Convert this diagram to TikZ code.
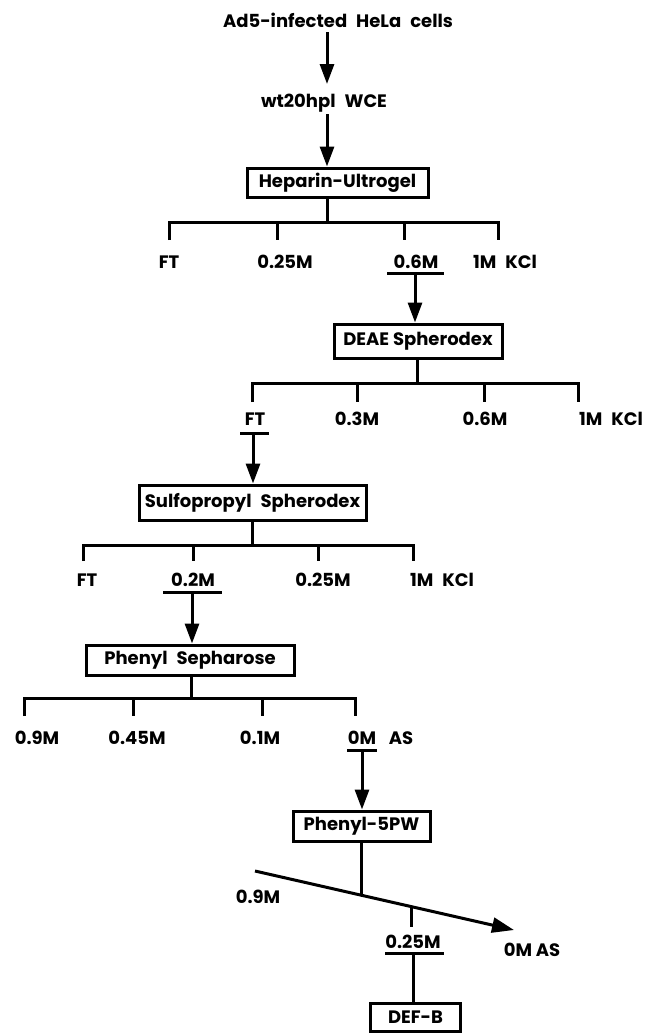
\documentclass[tikz,border=0pt]{standalone}
\usepackage{fontspec}
\setmainfont{Poppins}
\usetikzlibrary{arrows.meta,calc}
\newcommand{\ws}{\hspace{9pt}}
\begin{document}
\begin{tikzpicture}[x=1pt,y=-1pt,
  lab/.style={inner sep=0pt,font=\fontsize{18}{21}\selectfont\bfseries},
  box/.style={draw,line width=3pt,inner sep=0pt,font=\fontsize{18}{21}\selectfont\bfseries},
  ln/.style={line width=3pt},
  arr/.style={line width=3pt,-{Triangle[length=20pt,width=14pt]}}]
\useasboundingbox (0,0) rectangle (655,1034);

% top
\node[lab] (top) at (338,20) {Ad5-infected\ws HeLa\ws cells};
\node[lab] (wce) at (324,103) {wt20hpl\ws WCE};
\node[box,minimum width=181pt,minimum height=29pt] (hep) at (337.5,182.5) {Heparin-Ultrogel};
\coordinate (a1) at (327,32);
\coordinate (a1e) at (327,84);
\coordinate (a2) at (327,114);
\draw[arr] (a1) -- (a1e);
\draw[arr] (a2) -- (a2 |- hep.north);

% Heparin row
\coordinate (s1) at (327,197);
\draw[ln] (s1) -- (327,222);
\draw[ln] (169,240) -- (169,222) -- (498,222) -- (498,240);
\draw[ln] (277,222) -- (277,240);
\draw[ln] (404,222) -- (404,240);
\node[lab] (h1) at (169,262) {FT};
\node[lab] (h2) at (285,262) {0.25M};
\node[lab] (h3) at (416,262) {0.6M};
\node[lab] (h4) at (505,262) {1M\ws KCl};
\draw[ln] (387,273) -- (444,273);
\coordinate (u1) at (415,273);
\node[box,minimum width=168pt,minimum height=34pt] (deae) at (418,341) {DEAE Spherodex};
\draw[arr] (u1) -- (u1 |- deae.north);

% DEAE row
\draw[ln] (417,358) -- (417,383);
\draw[ln] (252,402) -- (252,383) -- (578,383) -- (578,402);
\draw[ln] (357,383) -- (357,402);
\draw[ln] (484,383) -- (484,402);
\node[lab] (d1) at (255,419) {FT};
\node[lab] (d2) at (357,419) {0.3M};
\node[lab] (d3) at (485,419) {0.6M};
\node[lab] (d4) at (611,419) {1M\ws KCl};
\draw[ln] (240,433) -- (269,433);
\coordinate (u2) at (253,433);
\node[box,minimum width=227pt,minimum height=35pt] (sp) at (252.5,502.5) {Sulfopropyl\ws Spherodex};
\draw[arr] (u2) -- (u2 |- sp.north);

% Sulfopropyl row
\draw[ln] (252,520) -- (252,545);
\draw[ln] (83,561) -- (83,545) -- (413,545) -- (413,561);
\draw[ln] (193,545) -- (193,561);
\draw[ln] (318,545) -- (318,561);
\node[lab] (p1) at (87,580) {FT};
\node[lab] (p2) at (193,580) {0.2M};
\node[lab] (p3) at (323,580) {0.25M};
\node[lab] (p4) at (442,580) {1M\ws KCl};
\draw[ln] (163,592) -- (222,592);
\coordinate (u3) at (192,592);
\node[box,minimum width=208pt,minimum height=30pt] (ps) at (190,660) {Phenyl\ws Sepharose};
\draw[arr] (u3) -- (u3 |- ps.north);

% Phenyl Sepharose row
\draw[ln] (191,675) -- (191,698);
\draw[ln] (24,716) -- (24,698) -- (355,698) -- (355,716);
\draw[ln] (133,698) -- (133,716);
\draw[ln] (262,698) -- (262,716);
\node[lab] (q1) at (37,738) {0.9M};
\node[lab] (q2) at (137,738) {0.45M};
\node[lab] (q3) at (260,738) {0.1M};
\node[lab] (q4) at (362,738) {0M};
\node[lab] (q5) at (401,738) {AS};
\draw[ln] (347,750) -- (377,750);
\coordinate (u4) at (362,750);
\node[box,minimum width=137pt,minimum height=30pt] (p5) at (361.5,826) {Phenyl-5PW};
\draw[arr] (u4) -- (u4 |- p5.north);

% Phenyl-5PW gradient
\coordinate (g0) at (255,871);
\coordinate (g1) at (514,930);
\coordinate (gm) at (361,895.1);
\coordinate (tk) at (411,906.5);
\draw[line width=3pt,-{Triangle[length=22pt,width=15pt]}] (g0) -- (g1);
\draw[ln] (p5.south -| gm) -- (gm);
\draw[ln] (tk) -- (411,927);
\node[lab] (r1) at (258,897) {0.9M};
\node[lab] (r2) at (413,942) {0.25M};
\node[lab] (r3) at (532,950) {0M AS};
\draw[ln] (385,953) -- (444,953);
\coordinate (u5) at (413,953);
\node[box,minimum width=90pt,minimum height=28pt] (defb) at (415.5,1017) {DEF-B};
\draw[ln] (u5) -- (u5 |- defb.north);
\end{tikzpicture}
\end{document}
